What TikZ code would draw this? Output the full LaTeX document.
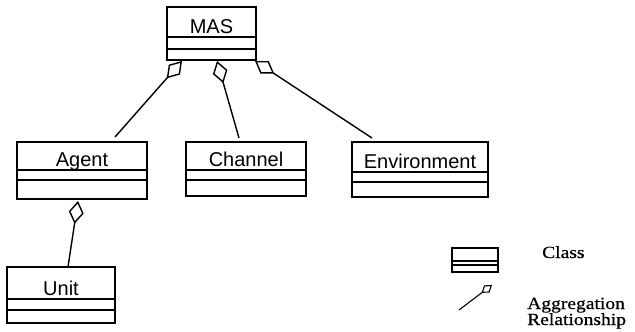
\documentclass[tikz,border=0pt]{standalone}
\usepackage{fontspec}
\setmainfont{Liberation Sans}
\newfontfamily\legendfont[FakeStretch=1.15,FakeBold=0.6]{Liberation Serif}
\usetikzlibrary{arrows.meta,calc}

\tikzset{
  classframe/.style={draw, line width=1.5pt, inner sep=0pt, outer sep=0pt, anchor=north west},
  compartment/.style={line width=1.3pt},
  classname/.style={anchor=base, inner sep=0pt, font=\fontsize{20}{24}\selectfont},
  aggregation/.style={line width=1.4pt, {Diamond[open,length=23pt,width=15pt]}-},
  legendtext/.style={anchor=base west, inner sep=0pt, font=\legendfont\fontsize{17}{19}\selectfont}
}

% UML class box: id, left, top, right, bottom, first rule, second rule, name
\newcommand\umlclass[8]{%
  \node[classframe, minimum width={(#4-#2)*1pt}, minimum height={(#5-#3)*1pt}] (#1) at (#2,#3) {};
  \draw[compartment] (#2,#6) -- (#4,#6) (#2,#7) -- (#4,#7);
  \node[classname] (#1-name) at ({(#2+#4)/2},#6-4) {#8};
}

\begin{document}
\begin{tikzpicture}[x=1pt, y=-1pt]
  \useasboundingbox[fill=white] (0,0) rectangle (635,332);

  % classes
  \umlclass{mas}{167}{7}{256}{60}{37}{49}{MAS}
  \umlclass{agent}{17}{142}{147}{199}{170}{180}{Agent}
  \umlclass{channel}{186}{142}{306}{196}{170}{180}{Channel}
  \umlclass{env}{352}{142}{488}{197}{172}{182}{Environment}
  \umlclass{unit}{7}{267}{115}{323}{299}{310}{Unit}

  % aggregations (diamond on the whole)
  \draw[aggregation] ($(mas.south west)+(15,1)$) -- ($(agent.north west)+(98,-5)$);
  \draw[aggregation] ($(mas.south west)+(50,1)$) -- ($(channel.north west)+(53,-4)$);
  \draw[aggregation] ($(mas.south east)+(-1,1)$) -- ($(env.north west)+(20,-4)$);
  \draw[aggregation] ($(agent.south west)+(61,2)$) -- ($(unit.north west)+(61,0)$);

  % legend
  \node[classframe, minimum width=46pt, minimum height=24pt] (legclass) at (452,248) {};
  \draw[line width=1.1pt] ($(legclass.north west)+(0,13)$) -- ($(legclass.north east)+(0,13)$)
                          ($(legclass.north west)+(0,17)$) -- ($(legclass.north east)+(0,17)$);
  \node[legendtext] (legclasstext) at (542,258) {Class};

  \coordinate (legaggtail) at (459,310);
  \coordinate (legagghead) at (492,285);
  \draw[line width=1.1pt, {Diamond[open,length=13pt,width=9pt]}-] (legagghead) -- (legaggtail);
  \node[legendtext] (legaggtext) at (527,309) {Aggregation};
  \node[legendtext] (legreltext) at (527,325) {Relationship};
\end{tikzpicture}
\end{document}
